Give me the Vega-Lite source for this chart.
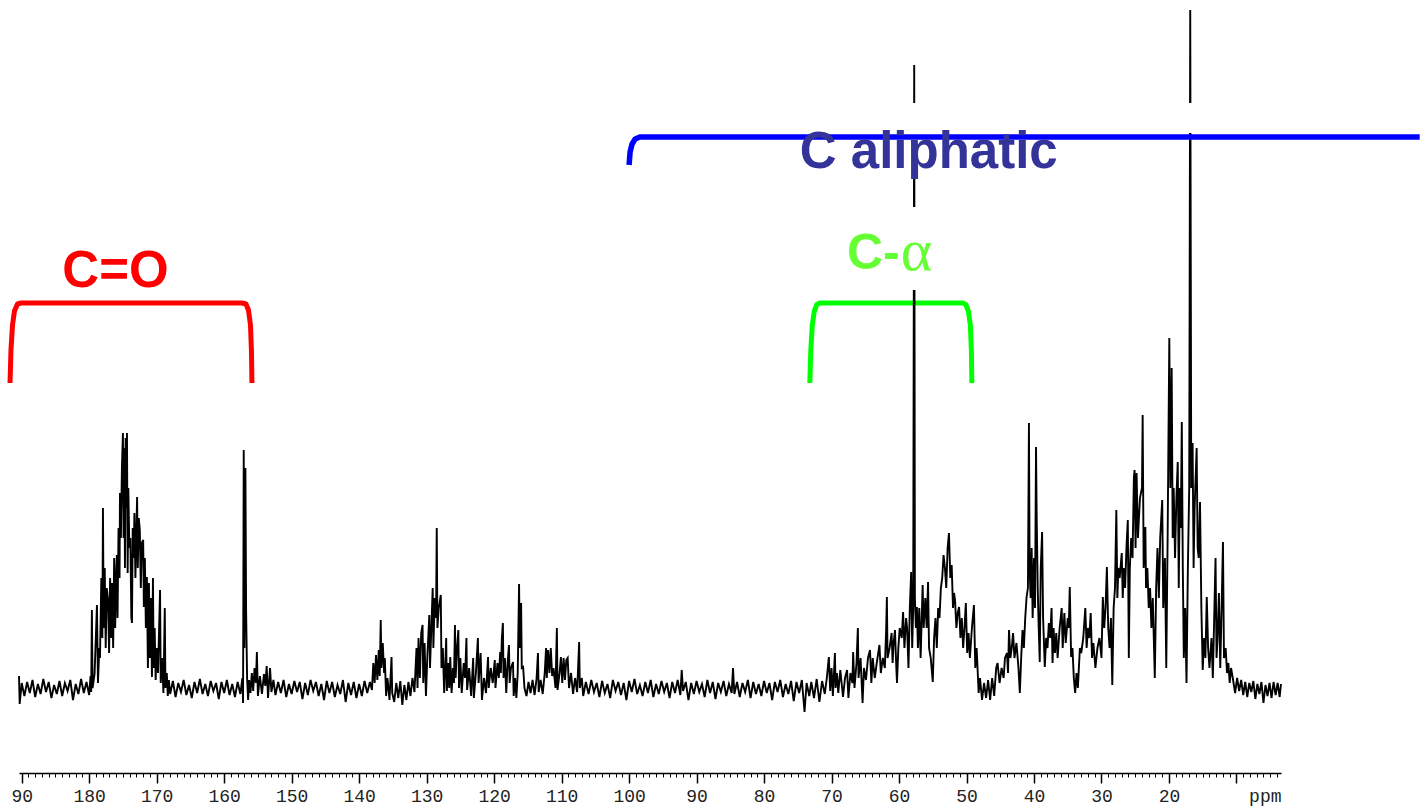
{
"$schema": "https://vega.github.io/schema/vega-lite/v6.json",
"width": 1262, "height": 773,
"autosize": {"type": "none"},
"padding": {"left": 19, "top": 0, "right": 139, "bottom": 34},
"background": "white",
"config": {"view": {"stroke": null}},
"resolve": {"axis": {"x": "independent"}},
"datasets": {
"spec": [
{"ppm":190.4,"y":12},{"ppm":190.3,"y":-16},{"ppm":190.0,"y":5},{"ppm":189.6,"y":-8},{"ppm":189.2,"y":6},{"ppm":188.8,"y":-5},{"ppm":188.4,"y":8},{"ppm":188.0,"y":-9},{"ppm":187.6,"y":4},{"ppm":187.2,"y":-6},{"ppm":186.8,"y":9},{"ppm":186.4,"y":-4},{"ppm":186.0,"y":6},{"ppm":185.6,"y":-10},{"ppm":185.2,"y":3},{"ppm":184.8,"y":-6},{"ppm":184.4,"y":7},{"ppm":184.0,"y":-8},{"ppm":183.6,"y":5},{"ppm":183.2,"y":-3},{"ppm":182.8,"y":8},{"ppm":182.4,"y":-12},{"ppm":182.0,"y":4},{"ppm":181.6,"y":-6},{"ppm":181.2,"y":9},{"ppm":180.8,"y":-5},{"ppm":180.4,"y":6},{"ppm":180.0,"y":-7},{"ppm":179.8,"y":12},{"ppm":179.7,"y":-4},{"ppm":179.6,"y":78},{"ppm":179.5,"y":0},{"ppm":179.2,"y":14},{"ppm":178.85,"y":83},{"ppm":178.7,"y":5},{"ppm":178.5,"y":40},{"ppm":178.4,"y":30},{"ppm":178.2,"y":110},{"ppm":178.05,"y":50},{"ppm":177.96,"y":180},{"ppm":177.85,"y":60},{"ppm":177.7,"y":120},{"ppm":177.55,"y":40},{"ppm":177.4,"y":100},{"ppm":177.2,"y":88},{"ppm":177.05,"y":35},{"ppm":176.9,"y":110},{"ppm":176.75,"y":50},{"ppm":176.6,"y":105},{"ppm":176.45,"y":40},{"ppm":176.3,"y":130},{"ppm":176.15,"y":60},{"ppm":176.0,"y":115},{"ppm":175.9,"y":133},{"ppm":175.8,"y":70},{"ppm":175.65,"y":160},{"ppm":175.5,"y":110},{"ppm":175.44,"y":195},{"ppm":175.3,"y":150},{"ppm":175.15,"y":220},{"ppm":175.0,"y":255},{"ppm":174.9,"y":150},{"ppm":174.8,"y":240},{"ppm":174.7,"y":120},{"ppm":174.6,"y":250},{"ppm":174.5,"y":180},{"ppm":174.4,"y":255},{"ppm":174.3,"y":115},{"ppm":174.2,"y":200},{"ppm":174.05,"y":140},{"ppm":173.9,"y":150},{"ppm":173.75,"y":70},{"ppm":173.66,"y":65},{"ppm":173.55,"y":160},{"ppm":173.4,"y":130},{"ppm":173.3,"y":175},{"ppm":173.15,"y":110},{"ppm":173.0,"y":160},{"ppm":172.9,"y":191},{"ppm":172.8,"y":120},{"ppm":172.65,"y":170},{"ppm":172.5,"y":158},{"ppm":172.35,"y":100},{"ppm":172.2,"y":145},{"ppm":172.0,"y":148},{"ppm":171.9,"y":81},{"ppm":171.75,"y":130},{"ppm":171.6,"y":60},{"ppm":171.45,"y":111},{"ppm":171.3,"y":20},{"ppm":171.15,"y":105},{"ppm":171.0,"y":30},{"ppm":170.85,"y":90},{"ppm":170.7,"y":11},{"ppm":170.55,"y":110},{"ppm":170.45,"y":20},{"ppm":170.3,"y":60},{"ppm":170.15,"y":8},{"ppm":170.0,"y":40},{"ppm":169.8,"y":15},{"ppm":169.5,"y":98},{"ppm":169.4,"y":5},{"ppm":169.2,"y":30},{"ppm":169.0,"y":-5},{"ppm":168.8,"y":80},{"ppm":168.7,"y":0},{"ppm":168.5,"y":15},{"ppm":168.35,"y":-8},{"ppm":168.2,"y":8},
{"ppm":168.0,"y":-6},{"ppm":167.6,"y":7},{"ppm":167.2,"y":-9},{"ppm":166.8,"y":5},{"ppm":166.4,"y":-4},{"ppm":166.0,"y":8},{"ppm":165.6,"y":-7},{"ppm":165.2,"y":3},{"ppm":164.8,"y":-10},{"ppm":164.4,"y":6},{"ppm":164.0,"y":-5},{"ppm":163.6,"y":9},{"ppm":163.2,"y":-6},{"ppm":162.8,"y":4},{"ppm":162.4,"y":-8},{"ppm":162.0,"y":7},{"ppm":161.6,"y":-3},{"ppm":161.2,"y":5},{"ppm":160.8,"y":-11},{"ppm":160.4,"y":6},{"ppm":160.0,"y":-5},{"ppm":159.6,"y":8},{"ppm":159.2,"y":-7},{"ppm":158.8,"y":4},{"ppm":158.4,"y":-9},{"ppm":158.0,"y":6},{"ppm":157.6,"y":-6},{"ppm":157.3,"y":10},{"ppm":157.2,"y":-15},{"ppm":157.1,"y":238},{"ppm":157.0,"y":40},{"ppm":156.85,"y":220},{"ppm":156.75,"y":78},{"ppm":156.6,"y":10},{"ppm":156.45,"y":-12},{"ppm":156.3,"y":8},{"ppm":156.1,"y":-5},{"ppm":155.9,"y":15},{"ppm":155.7,"y":-3},{"ppm":155.5,"y":20},{"ppm":155.3,"y":5},{"ppm":155.15,"y":36},{"ppm":155.0,"y":-8},{"ppm":154.7,"y":12},{"ppm":154.4,"y":-6},{"ppm":154.1,"y":14},{"ppm":153.9,"y":2},{"ppm":153.7,"y":22},{"ppm":153.5,"y":-10},{"ppm":153.2,"y":20},{"ppm":153.0,"y":-4},{"ppm":152.7,"y":8},
{"ppm":152.4,"y":-7},{"ppm":152.0,"y":6},{"ppm":151.6,"y":-5},{"ppm":151.2,"y":8},{"ppm":150.8,"y":-9},{"ppm":150.4,"y":4},{"ppm":150.0,"y":-6},{"ppm":149.6,"y":7},{"ppm":149.2,"y":-4},{"ppm":148.8,"y":6},{"ppm":148.4,"y":-11},{"ppm":148.0,"y":5},{"ppm":147.6,"y":-7},{"ppm":147.2,"y":8},{"ppm":146.8,"y":-3},{"ppm":146.4,"y":6},{"ppm":146.0,"y":-8},{"ppm":145.6,"y":4},{"ppm":145.2,"y":-12},{"ppm":144.8,"y":7},{"ppm":144.4,"y":-5},{"ppm":144.0,"y":6},{"ppm":143.6,"y":-9},{"ppm":143.2,"y":3},{"ppm":142.8,"y":-6},{"ppm":142.4,"y":8},{"ppm":142.0,"y":-14},{"ppm":141.6,"y":5},{"ppm":141.2,"y":-7},{"ppm":140.8,"y":6},{"ppm":140.4,"y":-10},{"ppm":140.0,"y":4},{"ppm":139.6,"y":-8},{"ppm":139.2,"y":7},{"ppm":138.8,"y":-5},{"ppm":138.4,"y":6},{"ppm":138.1,"y":-2},
{"ppm":137.9,"y":25},{"ppm":137.7,"y":5},{"ppm":137.5,"y":33},{"ppm":137.3,"y":8},{"ppm":137.1,"y":38},{"ppm":136.95,"y":12},{"ppm":136.8,"y":68},{"ppm":136.7,"y":20},{"ppm":136.5,"y":45},{"ppm":136.3,"y":15},{"ppm":136.2,"y":30},{"ppm":136.0,"y":-8},{"ppm":135.8,"y":10},{"ppm":135.5,"y":-12},{"ppm":135.2,"y":31},{"ppm":135.1,"y":-5},{"ppm":134.8,"y":-14},{"ppm":134.5,"y":5},{"ppm":134.2,"y":-10},{"ppm":133.9,"y":7},{"ppm":133.6,"y":-17},{"ppm":133.3,"y":3},{"ppm":133.0,"y":-12},{"ppm":132.7,"y":6},{"ppm":132.4,"y":-8},{"ppm":132.1,"y":10},{"ppm":131.8,"y":-4},{"ppm":131.5,"y":40},{"ppm":131.35,"y":0},{"ppm":131.2,"y":50},{"ppm":131.0,"y":10},{"ppm":130.8,"y":55},{"ppm":130.6,"y":63},{"ppm":130.5,"y":5},{"ppm":130.3,"y":45},{"ppm":130.1,"y":-8},{"ppm":129.9,"y":30},{"ppm":129.6,"y":73},{"ppm":129.5,"y":20},{"ppm":129.3,"y":60},{"ppm":129.1,"y":100},{"ppm":129.0,"y":40},{"ppm":128.8,"y":90},{"ppm":128.6,"y":70},{"ppm":128.5,"y":160},{"ppm":128.4,"y":60},{"ppm":128.2,"y":80},{"ppm":127.9,"y":93},{"ppm":127.8,"y":20},{"ppm":127.6,"y":40},{"ppm":127.4,"y":-5},{"ppm":127.2,"y":30},{"ppm":127.1,"y":50},{"ppm":127.0,"y":-3},{"ppm":126.8,"y":25},{"ppm":126.65,"y":0},{"ppm":126.5,"y":31},{"ppm":126.3,"y":-5},{"ppm":126.1,"y":20},{"ppm":125.95,"y":5},{"ppm":125.8,"y":63},{"ppm":125.7,"y":10},{"ppm":125.5,"y":40},{"ppm":125.3,"y":58},{"ppm":125.2,"y":0},{"ppm":125.0,"y":30},{"ppm":124.8,"y":-5},{"ppm":124.5,"y":25},{"ppm":124.3,"y":10},{"ppm":124.1,"y":50},{"ppm":124.0,"y":-2},{"ppm":123.7,"y":20},{"ppm":123.4,"y":-8},{"ppm":123.1,"y":30},{"ppm":123.0,"y":-10},{"ppm":122.7,"y":15},{"ppm":122.4,"y":50},{"ppm":122.3,"y":5},{"ppm":122.0,"y":35},{"ppm":121.8,"y":-12},{"ppm":121.5,"y":10},{"ppm":121.2,"y":-5},{"ppm":120.9,"y":31},{"ppm":120.8,"y":0},{"ppm":120.5,"y":20},{"ppm":120.2,"y":5},{"ppm":119.9,"y":28},{"ppm":119.8,"y":0},{"ppm":119.5,"y":25},{"ppm":119.3,"y":10},{"ppm":119.1,"y":36},{"ppm":119.0,"y":15},{"ppm":118.85,"y":50},{"ppm":118.7,"y":65},{"ppm":118.6,"y":10},{"ppm":118.4,"y":30},{"ppm":118.2,"y":-5},{"ppm":118.0,"y":25},{"ppm":117.8,"y":43},{"ppm":117.7,"y":5},{"ppm":117.5,"y":20},{"ppm":117.2,"y":26},{"ppm":117.1,"y":-8},{"ppm":116.9,"y":10},{"ppm":116.7,"y":-10},{"ppm":116.5,"y":15},{"ppm":116.3,"y":104},{"ppm":116.2,"y":40},{"ppm":116.0,"y":85},{"ppm":115.9,"y":20},{"ppm":115.7,"y":21},{"ppm":115.5,"y":0},{"ppm":115.2,"y":-8},{"ppm":114.9,"y":6},{"ppm":114.6,"y":-5},{"ppm":114.3,"y":8},{"ppm":114.0,"y":-7},{"ppm":113.7,"y":10},{"ppm":113.5,"y":35},{"ppm":113.4,"y":-4},{"ppm":113.1,"y":8},{"ppm":112.8,"y":-6},{"ppm":112.5,"y":15},{"ppm":112.3,"y":40},{"ppm":112.2,"y":10},{"ppm":112.0,"y":38},{"ppm":111.8,"y":15},{"ppm":111.6,"y":40},{"ppm":111.4,"y":12},{"ppm":111.2,"y":20},{"ppm":110.9,"y":0},{"ppm":110.7,"y":60},{"ppm":110.6,"y":-2},{"ppm":110.3,"y":15},{"ppm":110.1,"y":31},{"ppm":109.9,"y":5},{"ppm":109.7,"y":30},{"ppm":109.5,"y":8},{"ppm":109.3,"y":28},{"ppm":109.1,"y":30},{"ppm":108.9,"y":0},{"ppm":108.6,"y":15},{"ppm":108.3,"y":-6},{"ppm":108.0,"y":10},{"ppm":107.7,"y":-4},{"ppm":107.4,"y":46},{"ppm":107.3,"y":0},{"ppm":107.0,"y":10},{"ppm":106.8,"y":-8},
{"ppm":106.4,"y":6},{"ppm":106.0,"y":-6},{"ppm":105.6,"y":8},{"ppm":105.2,"y":-4},{"ppm":104.8,"y":5},{"ppm":104.4,"y":-9},{"ppm":104.0,"y":7},{"ppm":103.6,"y":-5},{"ppm":103.2,"y":4},{"ppm":102.8,"y":-10},{"ppm":102.4,"y":8},{"ppm":102.0,"y":-3},{"ppm":101.6,"y":6},{"ppm":101.2,"y":-7},{"ppm":100.8,"y":5},{"ppm":100.4,"y":-12},{"ppm":100.0,"y":7},{"ppm":99.6,"y":-4},{"ppm":99.2,"y":9},{"ppm":98.8,"y":-6},{"ppm":98.4,"y":3},{"ppm":98.0,"y":-8},{"ppm":97.6,"y":6},{"ppm":97.2,"y":-5},{"ppm":96.8,"y":8},{"ppm":96.4,"y":-9},{"ppm":96.0,"y":4},{"ppm":95.6,"y":-6},{"ppm":95.2,"y":7},{"ppm":94.8,"y":-4},{"ppm":94.4,"y":5},{"ppm":94.0,"y":-10},{"ppm":93.6,"y":6},{"ppm":93.2,"y":-5},{"ppm":92.8,"y":8},{"ppm":92.4,"y":-7},{"ppm":92.2,"y":18},{"ppm":92.0,"y":-3},{"ppm":91.6,"y":6},{"ppm":91.2,"y":-12},{"ppm":90.8,"y":5},{"ppm":90.4,"y":-6},{"ppm":90.0,"y":7},{"ppm":89.6,"y":-4},{"ppm":89.2,"y":4},{"ppm":88.8,"y":-9},{"ppm":88.4,"y":8},{"ppm":88.0,"y":-5},{"ppm":87.6,"y":6},{"ppm":87.2,"y":-11},{"ppm":86.8,"y":5},{"ppm":86.4,"y":-4},{"ppm":86.0,"y":7},{"ppm":85.6,"y":-8},{"ppm":85.2,"y":4},{"ppm":84.8,"y":-5},{"ppm":84.6,"y":20},{"ppm":84.4,"y":-6},{"ppm":84.0,"y":6},{"ppm":83.6,"y":-9},{"ppm":83.2,"y":5},{"ppm":82.8,"y":-4},{"ppm":82.4,"y":8},{"ppm":82.0,"y":-10},{"ppm":81.6,"y":6},{"ppm":81.2,"y":-6},{"ppm":80.8,"y":4},{"ppm":80.4,"y":-8},{"ppm":80.0,"y":7},{"ppm":79.6,"y":-5},{"ppm":79.2,"y":5},{"ppm":78.8,"y":-12},{"ppm":78.4,"y":6},{"ppm":78.0,"y":-4},{"ppm":77.6,"y":8},{"ppm":77.2,"y":-9},{"ppm":76.8,"y":4},{"ppm":76.4,"y":-6},{"ppm":76.0,"y":7},{"ppm":75.6,"y":-13},{"ppm":75.2,"y":6},{"ppm":74.8,"y":-5},{"ppm":74.4,"y":8},{"ppm":74.0,"y":-24},{"ppm":73.7,"y":5},{"ppm":73.3,"y":-8},{"ppm":73.0,"y":6},{"ppm":72.6,"y":-10},{"ppm":72.2,"y":9},{"ppm":71.8,"y":-14},{"ppm":71.4,"y":7},{"ppm":71.0,"y":-6},{"ppm":70.7,"y":10},{"ppm":70.4,"y":31},{"ppm":70.2,"y":-3},{"ppm":70.0,"y":20},{"ppm":69.8,"y":-8},{"ppm":69.5,"y":35},{"ppm":69.4,"y":0},{"ppm":69.2,"y":15},{"ppm":69.0,"y":-5},{"ppm":68.7,"y":18},{"ppm":68.3,"y":-9},{"ppm":68.0,"y":10},{"ppm":67.7,"y":18},{"ppm":67.5,"y":-10},{"ppm":67.2,"y":15},{"ppm":66.9,"y":5},{"ppm":66.8,"y":36},{"ppm":66.6,"y":0},{"ppm":66.3,"y":25},{"ppm":66.1,"y":60},{"ppm":66.0,"y":10},{"ppm":65.7,"y":30},{"ppm":65.4,"y":-15},{"ppm":65.2,"y":20},{"ppm":64.9,"y":8},{"ppm":64.6,"y":30},{"ppm":64.3,"y":38},{"ppm":64.1,"y":5},{"ppm":63.9,"y":30},{"ppm":63.6,"y":10},{"ppm":63.3,"y":25},{"ppm":62.9,"y":43},{"ppm":62.7,"y":15},{"ppm":62.4,"y":30},{"ppm":62.1,"y":20},{"ppm":61.9,"y":60},{"ppm":61.8,"y":91},{"ppm":61.7,"y":30},{"ppm":61.4,"y":40},{"ppm":61.1,"y":55},{"ppm":60.95,"y":25},{"ppm":60.8,"y":45},{"ppm":60.6,"y":58},{"ppm":60.4,"y":20},{"ppm":60.3,"y":5},{"ppm":60.1,"y":40},{"ppm":59.9,"y":60},{"ppm":59.6,"y":50},{"ppm":59.4,"y":76},{"ppm":59.2,"y":40},{"ppm":58.95,"y":70},{"ppm":58.8,"y":60},{"ppm":58.6,"y":20},{"ppm":58.4,"y":80},{"ppm":58.2,"y":116},{"ppm":58.05,"y":40},{"ppm":57.9,"y":80},{"ppm":57.75,"y":623},{"ppm":57.65,"y":90},{"ppm":57.5,"y":60},{"ppm":57.35,"y":81},{"ppm":57.2,"y":40},{"ppm":57.0,"y":80},{"ppm":56.8,"y":30},{"ppm":56.5,"y":103},{"ppm":56.35,"y":60},{"ppm":56.1,"y":90},{"ppm":55.9,"y":60},{"ppm":55.7,"y":106},{"ppm":55.55,"y":40},{"ppm":55.3,"y":30},{"ppm":55.0,"y":6},{"ppm":54.8,"y":50},{"ppm":54.6,"y":70},{"ppm":54.4,"y":40},{"ppm":54.2,"y":80},{"ppm":54.0,"y":70},{"ppm":53.8,"y":100},{"ppm":53.6,"y":110},{"ppm":53.4,"y":133},{"ppm":53.2,"y":120},{"ppm":53.0,"y":100},{"ppm":52.8,"y":140},{"ppm":52.6,"y":155},{"ppm":52.4,"y":110},{"ppm":52.2,"y":123},{"ppm":52.0,"y":80},{"ppm":51.85,"y":95},{"ppm":51.7,"y":88},{"ppm":51.5,"y":60},{"ppm":51.3,"y":75},{"ppm":51.1,"y":81},{"ppm":50.9,"y":50},{"ppm":50.7,"y":70},{"ppm":50.5,"y":40},{"ppm":50.3,"y":60},{"ppm":50.1,"y":85},{"ppm":49.9,"y":35},{"ppm":49.7,"y":55},{"ppm":49.5,"y":30},{"ppm":49.2,"y":60},{"ppm":48.9,"y":83},{"ppm":48.7,"y":20},{"ppm":48.5,"y":40},{"ppm":48.2,"y":-5},{"ppm":48.0,"y":10},{"ppm":47.7,"y":-12},{"ppm":47.4,"y":5},{"ppm":47.1,"y":-10},{"ppm":46.8,"y":8},{"ppm":46.5,"y":-12},{"ppm":46.2,"y":10},{"ppm":45.9,"y":-8},{"ppm":45.6,"y":20},{"ppm":45.4,"y":25},{"ppm":45.1,"y":5},{"ppm":44.8,"y":20},{"ppm":44.5,"y":10},{"ppm":44.3,"y":30},{"ppm":44.0,"y":35},{"ppm":43.85,"y":15},{"ppm":43.7,"y":58},{"ppm":43.5,"y":30},{"ppm":43.3,"y":40},{"ppm":43.1,"y":55},{"ppm":42.9,"y":30},{"ppm":42.6,"y":45},{"ppm":42.3,"y":20},{"ppm":42.1,"y":-5},{"ppm":41.9,"y":30},{"ppm":41.7,"y":58},{"ppm":41.5,"y":40},{"ppm":41.3,"y":70},{"ppm":41.1,"y":91},{"ppm":40.9,"y":100},{"ppm":40.75,"y":265},{"ppm":40.65,"y":120},{"ppm":40.5,"y":90},{"ppm":40.35,"y":140},{"ppm":40.2,"y":70},{"ppm":40.0,"y":130},{"ppm":39.85,"y":80},{"ppm":39.7,"y":241},{"ppm":39.6,"y":170},{"ppm":39.45,"y":100},{"ppm":39.3,"y":60},{"ppm":39.15,"y":26},{"ppm":39.0,"y":120},{"ppm":38.8,"y":156},{"ppm":38.65,"y":70},{"ppm":38.5,"y":40},{"ppm":38.4,"y":21},{"ppm":38.2,"y":50},{"ppm":38.0,"y":40},{"ppm":37.8,"y":65},{"ppm":37.6,"y":50},{"ppm":37.4,"y":80},{"ppm":37.25,"y":25},{"ppm":37.1,"y":60},{"ppm":36.9,"y":35},{"ppm":36.7,"y":55},{"ppm":36.5,"y":30},{"ppm":36.2,"y":60},{"ppm":35.9,"y":80},{"ppm":35.75,"y":40},{"ppm":35.5,"y":75},{"ppm":35.3,"y":45},{"ppm":35.0,"y":70},{"ppm":34.85,"y":60},{"ppm":34.7,"y":101},{"ppm":34.5,"y":31},{"ppm":34.3,"y":40},{"ppm":34.1,"y":10},{"ppm":33.9,"y":-5},{"ppm":33.7,"y":15},{"ppm":33.5,"y":0},{"ppm":33.2,"y":40},{"ppm":33.0,"y":35},{"ppm":32.7,"y":50},{"ppm":32.4,"y":80},{"ppm":32.2,"y":40},{"ppm":32.0,"y":60},{"ppm":31.8,"y":50},{"ppm":31.6,"y":75},{"ppm":31.4,"y":30},{"ppm":31.2,"y":45},{"ppm":30.9,"y":20},{"ppm":30.6,"y":40},{"ppm":30.3,"y":50},{"ppm":30.0,"y":30},{"ppm":29.8,"y":91},{"ppm":29.6,"y":60},{"ppm":29.4,"y":80},{"ppm":29.2,"y":121},{"ppm":29.0,"y":60},{"ppm":28.8,"y":40},{"ppm":28.6,"y":70},{"ppm":28.4,"y":3},{"ppm":28.2,"y":80},{"ppm":28.0,"y":100},{"ppm":27.8,"y":178},{"ppm":27.65,"y":90},{"ppm":27.5,"y":120},{"ppm":27.3,"y":110},{"ppm":27.0,"y":135},{"ppm":26.85,"y":90},{"ppm":26.7,"y":120},{"ppm":26.5,"y":100},{"ppm":26.3,"y":140},{"ppm":26.1,"y":168},{"ppm":25.95,"y":30},{"ppm":25.8,"y":120},{"ppm":25.6,"y":150},{"ppm":25.4,"y":130},{"ppm":25.2,"y":210},{"ppm":25.1,"y":218},{"ppm":24.95,"y":140},{"ppm":24.8,"y":215},{"ppm":24.6,"y":150},{"ppm":24.3,"y":190},{"ppm":24.0,"y":200},{"ppm":23.9,"y":273},{"ppm":23.75,"y":120},{"ppm":23.5,"y":161},{"ppm":23.4,"y":100},{"ppm":23.2,"y":120},{"ppm":23.0,"y":80},{"ppm":22.8,"y":100},{"ppm":22.6,"y":60},{"ppm":22.4,"y":90},{"ppm":22.1,"y":10},{"ppm":21.9,"y":100},{"ppm":21.7,"y":140},{"ppm":21.5,"y":90},{"ppm":21.3,"y":150},{"ppm":21.0,"y":188},{"ppm":20.85,"y":80},{"ppm":20.6,"y":130},{"ppm":20.4,"y":20},{"ppm":20.2,"y":150},{"ppm":19.95,"y":350},{"ppm":19.8,"y":200},{"ppm":19.6,"y":320},{"ppm":19.45,"y":150},{"ppm":19.3,"y":200},{"ppm":19.1,"y":130},{"ppm":18.9,"y":190},{"ppm":18.7,"y":226},{"ppm":18.55,"y":100},{"ppm":18.4,"y":200},{"ppm":18.25,"y":160},{"ppm":18.1,"y":266},{"ppm":17.95,"y":120},{"ppm":17.8,"y":30},{"ppm":17.6,"y":80},{"ppm":17.4,"y":5},{"ppm":17.2,"y":120},{"ppm":17.0,"y":200},{"ppm":16.85,"y":678},{"ppm":16.7,"y":200},{"ppm":16.5,"y":245},{"ppm":16.35,"y":120},{"ppm":16.2,"y":180},{"ppm":15.9,"y":240},{"ppm":15.75,"y":140},{"ppm":15.6,"y":130},{"ppm":15.4,"y":186},{"ppm":15.2,"y":80},{"ppm":15.0,"y":18},{"ppm":14.8,"y":50},{"ppm":14.6,"y":30},{"ppm":14.4,"y":91},{"ppm":14.2,"y":40},{"ppm":14.0,"y":20},{"ppm":13.7,"y":50},{"ppm":13.5,"y":10},{"ppm":13.3,"y":70},{"ppm":13.1,"y":130},{"ppm":12.95,"y":30},{"ppm":12.8,"y":50},{"ppm":12.6,"y":95},{"ppm":12.4,"y":20},{"ppm":12.2,"y":80},{"ppm":12.0,"y":146},{"ppm":11.85,"y":30},{"ppm":11.6,"y":40},{"ppm":11.4,"y":15},{"ppm":11.2,"y":25},{"ppm":11.0,"y":5},{"ppm":10.8,"y":20},{"ppm":10.5,"y":8},
{"ppm":10.2,"y":-5},{"ppm":9.9,"y":10},{"ppm":9.6,"y":-3},{"ppm":9.3,"y":8},{"ppm":9.0,"y":-7},{"ppm":8.7,"y":6},{"ppm":8.4,"y":-9},{"ppm":8.1,"y":5},{"ppm":7.8,"y":-4},{"ppm":7.5,"y":7},{"ppm":7.2,"y":-11},{"ppm":6.9,"y":4},{"ppm":6.6,"y":-6},{"ppm":6.3,"y":6},{"ppm":6.0,"y":-15},{"ppm":5.7,"y":3},{"ppm":5.4,"y":-8},{"ppm":5.1,"y":5},{"ppm":4.8,"y":-10},{"ppm":4.5,"y":6},{"ppm":4.2,"y":-7},{"ppm":3.9,"y":5},{"ppm":3.6,"y":-9},{"ppm":3.4,"y":4}
],
"brackets": [
{"group":"C=O","o":1,"ppm":191.73,"y":305},{"group":"C=O","o":2,"ppm":191.59,"y":338},{"group":"C=O","o":3,"ppm":191.36,"y":363},{"group":"C=O","o":4,"ppm":191.07,"y":377},{"group":"C=O","o":5,"ppm":190.62,"y":384},{"group":"C=O","o":6,"ppm":190.1,"y":385},{"group":"C=O","o":7,"ppm":157.36,"y":385},{"group":"C=O","o":8,"ppm":156.77,"y":384},{"group":"C=O","o":9,"ppm":156.4,"y":378},{"group":"C=O","o":10,"ppm":156.1,"y":363},{"group":"C=O","o":11,"ppm":155.96,"y":338},{"group":"C=O","o":12,"ppm":155.88,"y":305},
{"group":"C-α","o":1,"ppm":73.22,"y":305},{"group":"C-α","o":2,"ppm":73.07,"y":338},{"group":"C-α","o":3,"ppm":72.85,"y":363},{"group":"C-α","o":4,"ppm":72.55,"y":377},{"group":"C-α","o":5,"ppm":72.18,"y":383.5},{"group":"C-α","o":6,"ppm":71.73,"y":385},{"group":"C-α","o":7,"ppm":50.55,"y":385},{"group":"C-α","o":8,"ppm":50.1,"y":383.5},{"group":"C-α","o":9,"ppm":49.73,"y":377},{"group":"C-α","o":10,"ppm":49.43,"y":363},{"group":"C-α","o":11,"ppm":49.28,"y":338},{"group":"C-α","o":12,"ppm":49.21,"y":305},
{"group":"C aliphatic","o":1,"ppm":100.0,"y":523},{"group":"C aliphatic","o":2,"ppm":99.85,"y":536},{"group":"C aliphatic","o":3,"ppm":99.56,"y":544},{"group":"C aliphatic","o":4,"ppm":99.1,"y":549},{"group":"C aliphatic","o":5,"ppm":98.4,"y":551},{"group":"C aliphatic","o":6,"ppm":-17.15,"y":551}
],
"boxes": [
{"ppm":59.9,"ppm2":13.2,"y":585,"y2":555},
{"ppm":76.2,"ppm2":34.7,"y":585,"y2":512},
{"ppm":68.0,"ppm2":54.0,"y":481,"y2":398}
],
"labels": [
{"label":"C=O","ppm":176.1,"y":401},
{"label":"C aliphatic","ppm":55.6,"y":520},
{"label":"C-","ppm":59.9,"y":419},
{"label":"α","ppm":59.75,"y":418}
]
},
"layer": [
{
"data": {"name": "brackets"},
"transform": [{"filter": "datum.group != 'C aliphatic'"}],
"mark": {"type": "line", "strokeWidth": 5, "strokeCap": "butt", "strokeJoin": "round"},
"encoding": {
"x": {"field": "ppm", "type": "quantitative", "scale": {"domain": [3.4, 190.4], "reverse": true, "nice": false, "zero": false}, "axis": null},
"y": {"field": "y", "type": "quantitative", "scale": {"domain": [-85, 688], "nice": false, "zero": false}, "axis": null},
"color": {"field": "group", "type": "nominal", "scale": {"domain": ["C=O", "C-α", "C aliphatic"], "range": ["#ff0000", "#00ff00", "#0000ff"]}, "legend": null},
"order": {"field": "o", "type": "quantitative"}
}
},
{
"data": {"name": "spec"},
"mark": {"type": "line", "color": "#000000", "strokeWidth": 1.9, "interpolate": "linear"},
"encoding": {
"x": {"field": "ppm", "type": "quantitative", "axis": {
"orient": "bottom",
"values": [10,20,30,40,50,60,70,80,90,100,110,120,130,140,150,160,170,180,190],
"grid": false, "tickSize": 10, "tickColor": "#000000", "tickWidth": 1.5,
"domainColor": "#000000", "domainWidth": 1.5,
"labelFont": "Liberation Mono", "labelFontSize": 18, "labelColor": "#222222", "labelPadding": 4,
"labelFlush": false, "labelOverlap": false, "labelBound": false,
"labelExpr": "datum.value == 190 ? '\u00a090' : (datum.value == 10 ? '' : datum.label)",
"title": "ppm", "titleFont": "Liberation Mono", "titleFontSize": 18, "titleFontWeight": "normal", "titleColor": "#222222",
"titleAlign": "right", "titleBaseline": "alphabetic", "titleX": 1262, "titleY": 28, "titleAngle": 0
}},
"y": {"field": "y", "type": "quantitative", "axis": null}
}
},
{
"data": {"name": "boxes"},
"mark": {"type": "rect", "color": "#ffffff"},
"encoding": {
"x": {"field": "ppm", "type": "quantitative", "axis": {
"orient": "bottom",
"values": [4,5,6,7,8,9,11,12,13,14,15,16,17,18,19,21,22,23,24,25,26,27,28,29,31,32,33,34,35,36,37,38,39,41,42,43,44,45,46,47,48,49,51,52,53,54,55,56,57,58,59,61,62,63,64,65,66,67,68,69,71,72,73,74,75,76,77,78,79,81,82,83,84,85,86,87,88,89,91,92,93,94,95,96,97,98,99,101,102,103,104,105,106,107,108,109,111,112,113,114,115,116,117,118,119,121,122,123,124,125,126,127,128,129,131,132,133,134,135,136,137,138,139,141,142,143,144,145,146,147,148,149,151,152,153,154,155,156,157,158,159,161,162,163,164,165,166,167,168,169,171,172,173,174,175,176,177,178,179,181,182,183,184,185,186,187,188,189],
"grid": false, "domain": false, "labels": false, "title": null,
"tickSize": 4, "tickColor": "#000000", "tickWidth": 1
}},
"x2": {"field": "ppm2"},
"y": {"field": "y", "type": "quantitative", "axis": null},
"y2": {"field": "y2"}
}
},
{
"data": {"name": "brackets"},
"transform": [{"filter": "datum.group == 'C aliphatic'"}],
"mark": {"type": "line", "strokeWidth": 5.5, "strokeCap": "butt", "strokeJoin": "round"},
"encoding": {
"x": {"field": "ppm", "type": "quantitative", "axis": null},
"y": {"field": "y", "type": "quantitative", "axis": null},
"color": {"field": "group", "type": "nominal", "legend": null},
"order": {"field": "o", "type": "quantitative"}
}
},
{
"data": {"name": "labels"},
"transform": [{"filter": "datum.label == 'C=O'"}],
"mark": {"type": "text", "font": "Liberation Sans", "fontWeight": "bold", "fontSize": 51, "color": "#ff0000", "align": "center", "baseline": "alphabetic"},
"encoding": {
"x": {"field": "ppm", "type": "quantitative", "axis": null},
"y": {"field": "y", "type": "quantitative", "axis": null},
"text": {"field": "label"}
}
},
{
"data": {"name": "labels"},
"transform": [{"filter": "datum.label == 'C aliphatic'"}],
"mark": {"type": "text", "font": "Liberation Sans", "fontWeight": "bold", "fontSize": 51, "color": "#333399", "align": "center", "baseline": "alphabetic"},
"encoding": {
"x": {"field": "ppm", "type": "quantitative", "axis": null},
"y": {"field": "y", "type": "quantitative", "axis": null},
"text": {"field": "label"}
}
},
{
"data": {"name": "labels"},
"transform": [{"filter": "datum.label == 'C-'"}],
"mark": {"type": "text", "font": "Liberation Sans", "fontWeight": "bold", "fontSize": 50, "color": "#66ff33", "align": "right", "baseline": "alphabetic"},
"encoding": {
"x": {"field": "ppm", "type": "quantitative", "axis": null},
"y": {"field": "y", "type": "quantitative", "axis": null},
"text": {"field": "label"}
}
},
{
"data": {"name": "labels"},
"transform": [{"filter": "datum.label == 'α'"}],
"mark": {"type": "text", "font": "Liberation Serif", "fontWeight": "normal", "fontSize": 60, "color": "#66ff33", "align": "left", "baseline": "alphabetic"},
"encoding": {
"x": {"field": "ppm", "type": "quantitative", "axis": null},
"y": {"field": "y", "type": "quantitative", "axis": null},
"text": {"field": "label"}
}
}
]
}
